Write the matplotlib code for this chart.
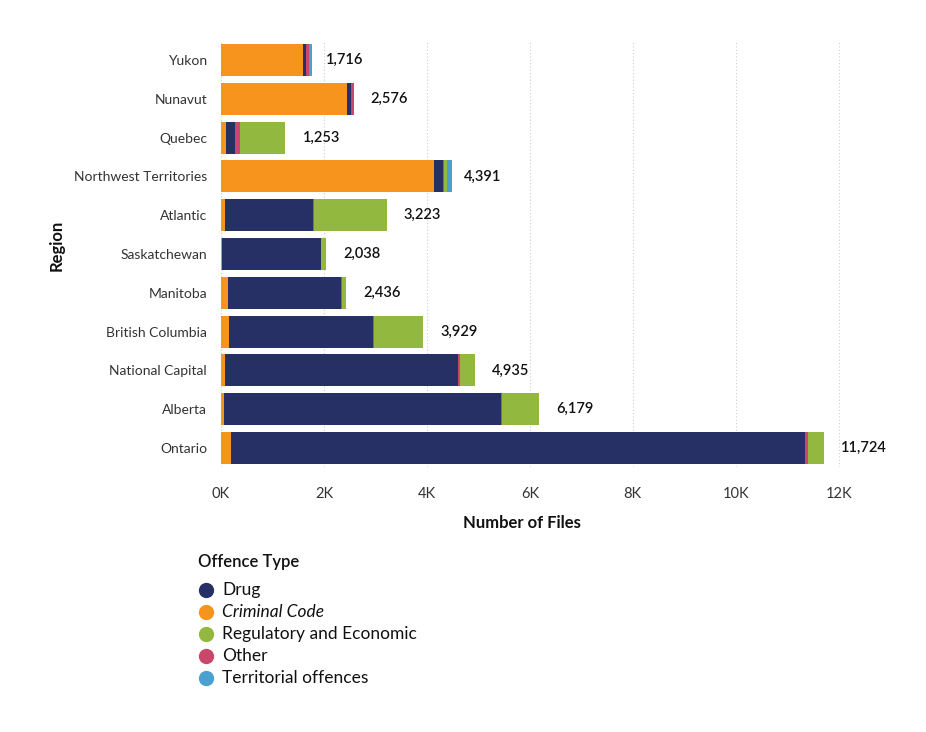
import matplotlib
matplotlib.use("Agg")
import matplotlib.pyplot as plt
from matplotlib.lines import Line2D
import numpy as np

regions = ["Yukon", "Nunavut", "Quebec", "Northwest Territories", "Atlantic",
           "Saskatchewan", "Manitoba", "British Columbia", "National Capital",
           "Alberta", "Ontario"]
criminal_code = [1600, 2440, 105, 4130, 70, 15, 130, 150, 80, 55, 185]
drug = [55, 80, 170, 175, 1720, 1930, 2205, 2810, 4530, 5390, 11160]
other = [61, 56, 100, 26, 18, 0, 18, 19, 25, 24, 55]
regulatory = [0, 0, 878, 60, 1415, 93, 83, 950, 300, 710, 324]
territorial = [50, 0, 0, 95, 0, 0, 0, 0, 0, 0, 0]
totals = [1716, 2576, 1253, 4391, 3223, 2038, 2436, 3929, 4935, 6179, 11724]
xticks = [0, 2000, 4000, 6000, 8000, 10000, 12000]
xtick_labels = ["0K", "2K", "4K", "6K", "8K", "10K", "12K"]

stack = [("Criminal Code", criminal_code, "#F7941E"),
         ("Drug", drug, "#263064"),
         ("Other", other, "#C9476B"),
         ("Regulatory and Economic", regulatory, "#93B83F"),
         ("Territorial offences", territorial, "#4BA0D0")]
legend_order = [("Drug", "#263064", "normal"),
                ("Criminal Code", "#F7941E", "italic"),
                ("Regulatory and Economic", "#93B83F", "normal"),
                ("Other", "#C9476B", "normal"),
                ("Territorial offences", "#4BA0D0", "normal")]

plt.rcParams['font.family'] = ['Lato', 'DejaVu Sans']

W, H = 926, 732
fig = plt.figure(figsize=(W / 100, H / 100), dpi=100)
px_per_k = 51.47
x0 = 221
xmax = 12300
top_px, bot_px = 40.6, 467.4
ax = fig.add_axes([x0 / W, 1 - bot_px / H, (xmax / 1000 * px_per_k) / W, (bot_px - top_px) / H])

y = np.arange(len(regions))
left = np.zeros(len(regions))
for name, vals, col in stack:
    vals = np.array(vals, dtype=float)
    ax.barh(y, vals, left=left, height=0.82, color=col, edgecolor='none', zorder=3)
    left += vals

for yi, t in zip(y, totals):
    ax.text(t + 330, yi, f"{t:,}", va='center', ha='left', fontsize=10.5,
            color='#111111', fontweight='semibold')

ax.set_ylim(len(regions) - 0.5, -0.5)
ax.set_xlim(0, xmax)
ax.set_yticks(y)
ax.set_yticklabels(regions, fontsize=10, color='#333333')
ax.set_xticks(xticks)
ax.set_xticklabels(xtick_labels, fontsize=10.5, color='#333333')
ax.tick_params(axis='both', length=0)
ax.tick_params(axis='y', pad=10)
ax.tick_params(axis='x', pad=14)
for s in ax.spines.values():
    s.set_visible(False)
ax.grid(axis='x', linestyle=(0, (1, 2)), color='#cccccc', linewidth=0.8, zorder=0)
ax.set_axisbelow(True)

fig.text(57 / W, 1 - 245 / H, "Region", rotation=90, fontsize=12, fontweight='bold',
         ha='center', va='center', color='#111111')
fig.text(522 / W, 1 - 523 / H, "Number of Files", fontsize=12, fontweight='bold',
         ha='center', va='center', color='#111111')

# legend
fig.text(198 / W, 1 - 562 / H, "Offence Type", fontsize=12, fontweight='semibold',
         ha='left', va='center', color='#111111')
for i, (name, col, style) in enumerate(legend_order):
    yy = 1 - (590 + 22 * i) / H
    fig.add_artist(Line2D([206 / W], [yy], marker='o', markersize=10, color=col,
                          linestyle='none', transform=fig.transFigure))
    fig.text(222 / W, yy, name, fontsize=12.5, style=style, ha='left', va='center',
             color='#111111')

fig.savefig("out.png", dpi=100)
